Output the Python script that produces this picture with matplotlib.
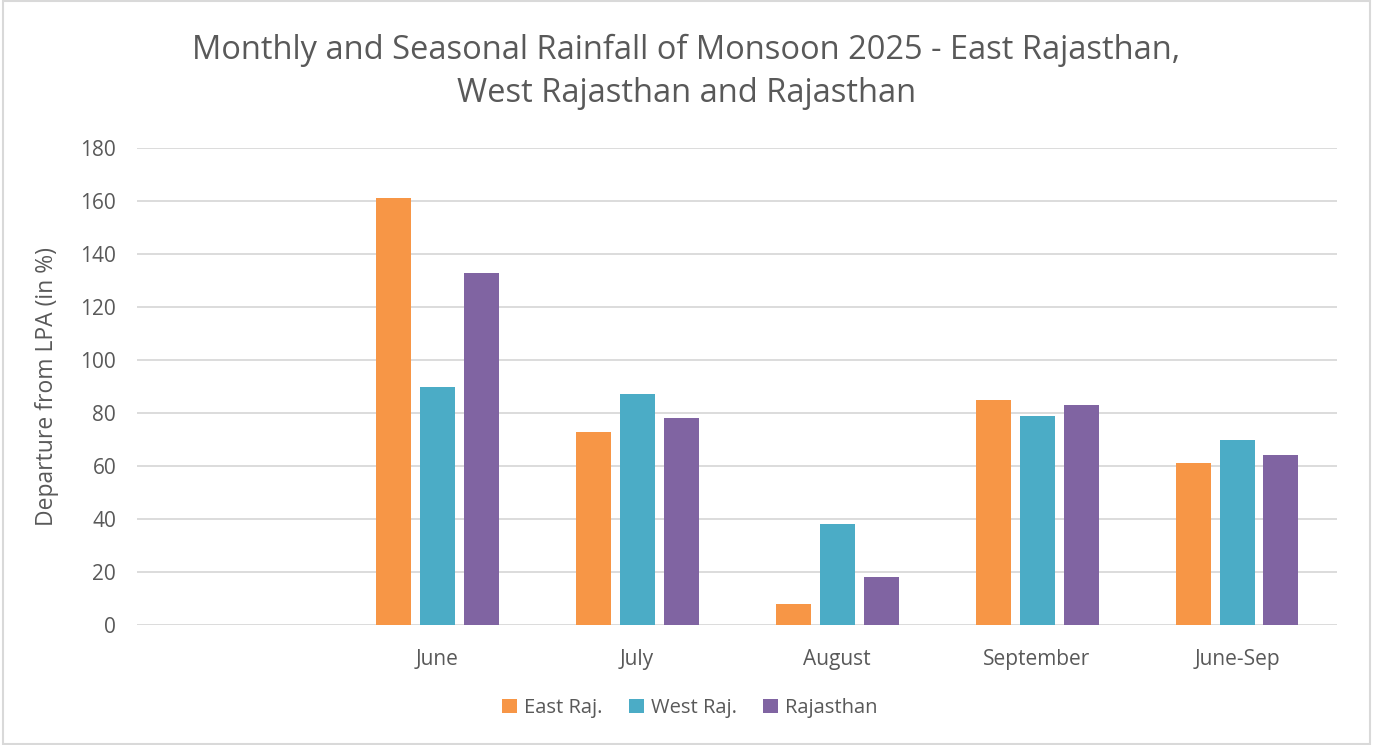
import matplotlib.pyplot as plt
import numpy as np

# monsoon 2025 departures (first category is blank in the source chart)
categories = ["", "June", "July", "August", "September", "June-Sep"]
east_raj = [np.nan, 161, 73, 8, 85, 61]
west_raj = [np.nan, 90, 87, 38, 79, 70]
rajasthan = [np.nan, 133, 78, 18, 83, 64]

plt.rcParams["font.family"] = ["Open Sans", "DejaVu Sans"]
txt = "#595959"
grid = "#D9D9D9"

fig = plt.figure(figsize=(13.73, 7.45), dpi=100)
ax = fig.add_axes([137 / 1373, 1 - 625 / 745, 1200 / 1373, 477 / 745])

x = np.arange(len(categories))
w = 0.175
step = 0.22
ax.bar(x - step, east_raj, w, color="#F79646", label="East Raj.", zorder=3)
ax.bar(x, west_raj, w, color="#4BACC6", label="West Raj.", zorder=3)
ax.bar(x + step, rajasthan, w, color="#8064A2", label="Rajasthan", zorder=3)

ax.set_xlim(-0.5, len(categories) - 0.5)
ax.set_ylim(0, 180)
ax.set_yticks(range(0, 181, 20))
ax.set_xticks(x)
ax.set_xticklabels(categories)
ax.yaxis.grid(True, color=grid, linewidth=1.3, zorder=0)
ax.set_axisbelow(True)
for s in ax.spines.values():
    s.set_visible(False)
ax.tick_params(length=0, colors=txt, labelsize=15)
ax.tick_params(axis="x", pad=17)
ax.tick_params(axis="y", pad=15)
ax.set_ylabel("Departure from LPA (in %)", color=txt, fontsize=16.5, labelpad=15)

fig.suptitle("Monthly and Seasonal Rainfall of Monsoon 2025 - East Rajasthan,\nWest Rajasthan and Rajasthan",
             color=txt, fontsize=23.5, y=1 - 72 / 745, va="center", linespacing=1.38)

fig.legend(loc="center", bbox_to_anchor=(690 / 1373, 1 - 708 / 745), ncol=3, frameon=False,
           fontsize=14.5, labelcolor=txt, handlelength=0.75, handleheight=0.75,
           handletextpad=0.35, columnspacing=1.3)

# outer chart border
fig.add_artist(plt.Rectangle((0.002, 0.002), 0.996, 0.996, transform=fig.transFigure,
                             fill=False, edgecolor=grid, linewidth=1.5))

plt.savefig("out.png", dpi=100)
